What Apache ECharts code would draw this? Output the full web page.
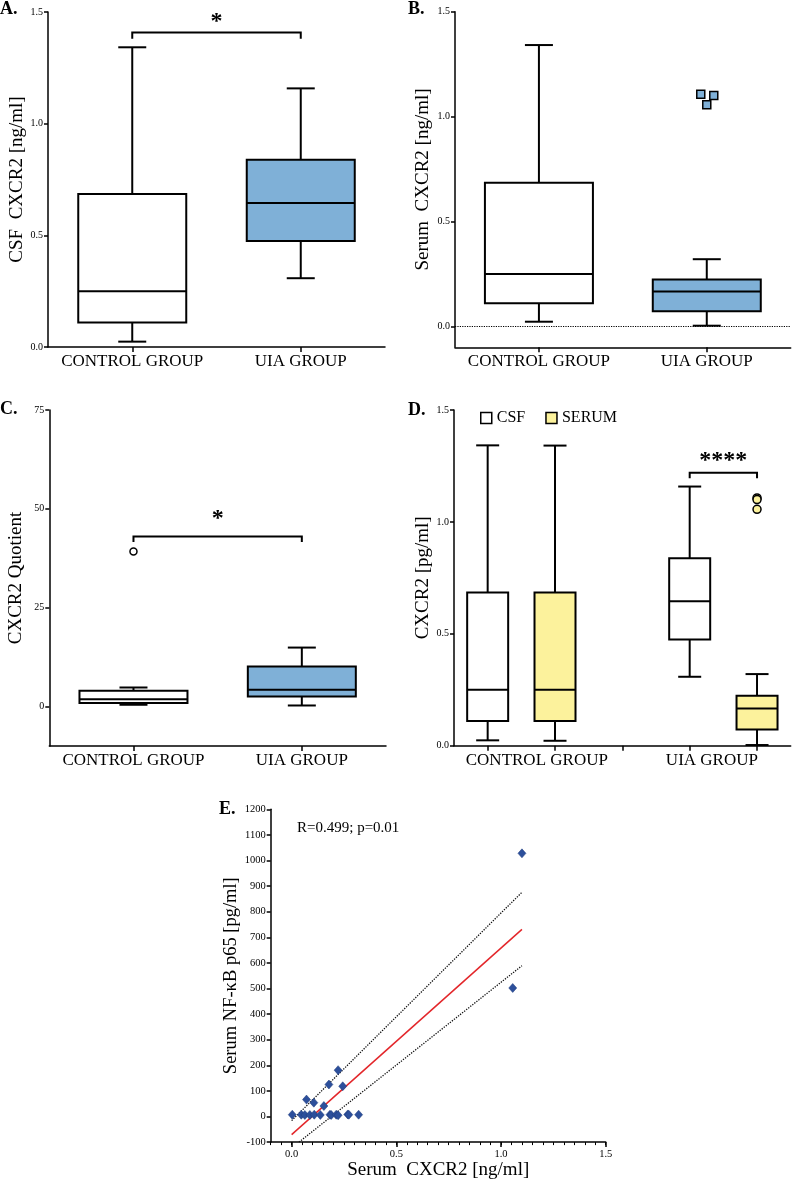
<!DOCTYPE html>
<html><head><meta charset="utf-8">
<script src="https://cdn.jsdelivr.net/npm/echarts@6/dist/echarts.min.js"></script>
<style>html,body{margin:0;padding:0;background:#fff}#c{width:793px;height:1181px}</style>
</head><body><div id="c"></div>
<script>
// ---------------- data ----------------
const groups = ['CONTROL GROUP', 'UIA GROUP'];
// box rows: [min, Q1, median, Q3, max]
const csfControl   = [0.024, 0.110, 0.250, 0.685, 1.342];
const csfUIA       = [0.308, 0.475, 0.645, 0.838, 1.158];
const serumControl = [0.022, 0.110, 0.250, 0.684, 1.341];
const serumUIA     = [0.003, 0.072, 0.166, 0.223, 0.320];
const serumUIAOutliers = [1.107, 1.100, 1.056];
const quotControl  = [0.43, 0.85, 1.8, 4.0, 4.8];
const quotUIA      = [0.25, 2.5, 4.2, 10.1, 14.9];
const quotControlOutliers = [39.2];
const ticksConc = [0, 0.5, 1.0, 1.5];
const ticksQuot = [0, 25, 50, 75];
const ticksE_X  = [0, 0.5, 1.0, 1.5];
// panel D slots (empty middle slot separates groups)
const dSlots = ['CSF control', 'SERUM control', '', 'CSF UIA', 'SERUM UIA'];
const dGroupLabelPos = [0.73, 3.33];
// significance brackets: [fromCat, toCat, yTop, yDrop, yLabel]
const sigA = [0, 1, 1.408, 1.38, 1.473];
const sigC = [0, 1, 43.0, 41.6, 48.5];
const sigD = [3, 4, 1.22, 1.195, 1.289];
const sigLabelA = '*', sigLabelC = '*', sigLabelD = '****';
// panel E scatter
const nfkbX = [1.100, 1.056, 0.222, 0.178, 0.244, 0.071, 0.106, 0.154,
               0.003, 0.046, 0.063, 0.087, 0.108, 0.137, 0.183, 0.189, 0.213, 0.222, 0.268, 0.273, 0.320];
const nfkbY = [1028, 502, 181, 125, 118, 66, 54, 41,
               7, 7, 6, 6, 7, 6, 7, 6, 7, 5, 8, 7, 7];
const fitLine = [[0, -71], [1.1, 731]];
const ciUpper = [[0, -16], [1.1, 876]];
const ciLower = [[0.035, -100], [1.1, 589]];
const statText = 'R=0.499; p=0.01';

// ---------------- style ----------------
const FONT = '"Liberation Serif", "DejaVu Serif", serif';
const BLUE = '#7fb0d7', YELLOW = '#fcf29c', WHITE = '#ffffff';
const jitterPx = [[-6, 0], [7, 0], [0, 0]];

function boxItem(fills, boxW, capW) {
  return function (params, api) {
    const x = api.value(0);
    const p = [1, 2, 3, 4, 5].map(function (d) { return api.coord([x, api.value(d)]); });
    const cx = p[0][0];
    const yMin = p[0][1], yQ1 = p[1][1], yMed = p[2][1], yQ3 = p[3][1], yMax = p[4][1];
    const ln = { stroke: '#000', lineWidth: 2 };
    const seg = function (x1, y1, x2, y2) { return { type: 'line', shape: { x1: x1, y1: y1, x2: x2, y2: y2 }, style: ln }; };
    return { type: 'group', children: [
      seg(cx, yMax, cx, yQ3), seg(cx, yQ1, cx, yMin),
      seg(cx - capW / 2, yMax, cx + capW / 2, yMax), seg(cx - capW / 2, yMin, cx + capW / 2, yMin),
      { type: 'rect', shape: { x: cx - boxW / 2, y: yQ3, width: boxW, height: yQ1 - yQ3 },
        style: { fill: fills[params.dataIndex], stroke: '#000', lineWidth: 2 } },
      seg(cx - boxW / 2, yMed, cx + boxW / 2, yMed)
    ] };
  };
}
function bracketItem(label) {
  return function (params, api) {
    const a = api.coord([api.value(0), api.value(2)]);
    const b = api.coord([api.value(1), api.value(2)]);
    const yd = api.coord([api.value(0), api.value(3)])[1];
    const yl = api.coord([api.value(0), api.value(4)])[1];
    return { type: 'group', children: [
      { type: 'polyline', shape: { points: [[a[0], yd], [a[0], a[1]], [b[0], b[1]], [b[0], yd]] },
        style: { stroke: '#000', lineWidth: 2, fill: 'none' } },
      { type: 'text', x: (a[0] + b[0]) / 2, y: yl + 4,
        style: { text: label, font: 'bold 24px ' + FONT, fill: '#000', align: 'center', verticalAlign: 'middle' } }
    ] };
  };
}
function boxSeries(name, xi, yi, rows, fills, boxW, capW) {
  return { type: 'custom', name: name, xAxisIndex: xi, yAxisIndex: yi, clip: false, silent: true,
    renderItem: boxItem(fills, boxW, capW), encode: { x: 0, y: [1, 2, 3, 4, 5] }, data: rows };
}
function bracketSeries(xi, yi, row, label) {
  return { type: 'custom', xAxisIndex: xi, yAxisIndex: yi, clip: false, silent: true,
    renderItem: bracketItem(label), encode: { x: [0, 1], y: [2, 3, 4] }, data: [row] };
}
const axLine = { show: true, onZero: false, lineStyle: { color: '#000', width: 1.5 } };
const tickY = { show: true, length: 4, lineStyle: { color: '#000', width: 1.5 } };
const tickX = { show: true, length: 5, alignWithLabel: true, interval: 0, lineStyle: { color: '#000', width: 1.5 } };
const tickLbl = { color: '#000', fontFamily: FONT, fontSize: 10, margin: 5 };
const catLbl = { color: '#000', fontFamily: FONT, fontSize: 17, margin: 6, interval: 0, hideOverlap: false };
const yName = function (txt, gap) {
  return { name: txt, nameLocation: 'middle', nameGap: gap, nameRotate: 90,
    nameTextStyle: { color: '#000', fontFamily: FONT, fontSize: 19 } };
};
function catAxis(gi, data, showLabel) {
  return { type: 'category', gridIndex: gi, data: data, boundaryGap: true, axisLine: axLine, axisTick: tickX,
    axisLabel: Object.assign({ show: showLabel !== false }, catLbl), splitLine: { show: false } };
}
const f1 = function (v) { return Number(v).toFixed(1); };
const f0 = function (v) { return String(Math.round(v)); };

const option = {
  backgroundColor: '#fff',
  animation: false,
  textStyle: { fontFamily: FONT },
  title: [
    { text: 'A.', left: 0, top: 0, padding: 0, textStyle: { fontSize: 18, fontWeight: 'bold', fontFamily: FONT, color: '#000' } },
    { text: 'B.', left: 408, top: 0, padding: 0, textStyle: { fontSize: 18, fontWeight: 'bold', fontFamily: FONT, color: '#000' } },
    { text: 'C.', left: 0, top: 400, padding: 0, textStyle: { fontSize: 18, fontWeight: 'bold', fontFamily: FONT, color: '#000' } },
    { text: 'D.', left: 408, top: 401, padding: 0, textStyle: { fontSize: 18, fontWeight: 'bold', fontFamily: FONT, color: '#000' } },
    { text: 'E.', left: 219, top: 800, padding: 0, textStyle: { fontSize: 18, fontWeight: 'bold', fontFamily: FONT, color: '#000' } },
    { text: statText, left: 297, top: 821, padding: 0, textStyle: { fontSize: 15, fontWeight: 'normal', fontFamily: FONT, color: '#000' } }
  ],
  legend: {
    left: 480, top: 410, padding: 0, itemWidth: 11, itemHeight: 11, itemGap: 20, selectedMode: false,
    textStyle: { fontFamily: FONT, fontSize: 16, color: '#000' },
    data: [
      { name: 'CSF', icon: 'rect', itemStyle: { color: WHITE, borderColor: '#000', borderWidth: 1.5 } },
      { name: 'SERUM', icon: 'rect', itemStyle: { color: YELLOW, borderColor: '#000', borderWidth: 1.5 } }
    ]
  },
  grid: [
    { left: 48, top: 12, width: 337, height: 335 },
    { left: 455, top: 11.7, width: 335.7, height: 335.6 },
    { left: 49.3, top: 410, width: 336.7, height: 336 },
    { left: 454, top: 410, width: 336.7, height: 335.7 },
    { left: 270.7, top: 809.3, width: 335, height: 334.7 }
  ],
  xAxis: [
    catAxis(0, groups),
    catAxis(1, groups),
    catAxis(2, groups),
    catAxis(3, dSlots, false),
    { type: 'value', gridIndex: 3, min: -0.5, max: 4.5, position: 'bottom',
      axisLine: { show: false, onZero: false }, axisTick: { show: false }, splitLine: { show: false },
      axisLabel: Object.assign({}, catLbl, { customValues: dGroupLabelPos, formatter: function (v) { return v < 2 ? groups[0] : groups[1]; } }) },
    { type: 'value', gridIndex: 4, min: -0.1, max: 1.5, position: 'bottom',
      axisLine: axLine, splitLine: { show: false },
      axisTick: { show: true, length: 5, customValues: ticksE_X, lineStyle: { color: '#000', width: 1.5 } },
      axisLabel: Object.assign({}, tickLbl, { fontSize: 10.5, margin: 7, customValues: ticksE_X, formatter: f1 }),
      name: 'Serum  CXCR2 [ng/ml]', nameLocation: 'middle', nameGap: 17,
      nameTextStyle: { color: '#000', fontFamily: FONT, fontSize: 19 } },
    { type: 'value', gridIndex: 4, min: -0.1, max: 1.5, interval: 0.05, position: 'bottom',
      axisLine: { show: false, onZero: false }, splitLine: { show: false }, axisLabel: { show: false },
      axisTick: { show: true, length: 3, lineStyle: { color: '#000', width: 1 } } }
  ],
  yAxis: [
    Object.assign({ type: 'value', gridIndex: 0, min: 0, max: 1.5, interval: 0.5, axisLine: axLine, axisTick: tickY,
      splitLine: { show: false }, axisLabel: Object.assign({ formatter: f1 }, tickLbl) }, yName('CSF  CXCR2 [ng/ml]', 20)),
    Object.assign({ type: 'value', gridIndex: 1, min: -0.1, max: 1.5, axisLine: axLine,
      axisTick: Object.assign({ customValues: ticksConc }, tickY),
      splitLine: { show: false }, axisLabel: Object.assign({ customValues: ticksConc, formatter: f1 }, tickLbl) }, yName('Serum  CXCR2 [ng/ml]', 22)),
    Object.assign({ type: 'value', gridIndex: 2, min: -10, max: 75, axisLine: axLine,
      axisTick: Object.assign({ customValues: ticksQuot }, tickY),
      splitLine: { show: false }, axisLabel: Object.assign({ customValues: ticksQuot, formatter: f0 }, tickLbl) }, yName('CXCR2 Quotient', 24)),
    Object.assign({ type: 'value', gridIndex: 3, min: 0, max: 1.5, interval: 0.5, axisLine: axLine, axisTick: tickY,
      splitLine: { show: false }, axisLabel: Object.assign({ formatter: f1 }, tickLbl) }, yName('CXCR2 [pg/ml]', 21)),
    Object.assign({ type: 'value', gridIndex: 4, min: -100, max: 1200, interval: 100, axisLine: axLine, axisTick: tickY,
      splitLine: { show: false }, axisLabel: Object.assign({}, tickLbl, { fontSize: 10.5, formatter: f0 }) },
      yName('Serum NF-κB p65 [pg/ml]', 30), { nameTextStyle: { color: '#000', fontFamily: FONT, fontSize: 18.5 } })
  ],
  series: [
    // A
    boxSeries('A', 0, 0, [[0].concat(csfControl), [1].concat(csfUIA)], [WHITE, BLUE], 108, 28),
    bracketSeries(0, 0, sigA, sigLabelA),
    // B
    boxSeries('B', 1, 1, [[0].concat(serumControl), [1].concat(serumUIA)], [WHITE, BLUE], 108, 28),
    { type: 'scatter', xAxisIndex: 1, yAxisIndex: 1, symbol: 'rect', symbolSize: 8, silent: true,
      itemStyle: { color: BLUE, borderColor: '#000', borderWidth: 1.5, opacity: 1 },
      data: serumUIAOutliers.map(function (v, i) { return { value: [1, v], symbolOffset: jitterPx[i] }; }),
      markLine: { silent: true, symbol: 'none', label: { show: false },
        lineStyle: { color: '#000', type: 'dotted', width: 1.2 }, data: [{ yAxis: 0 }] } },
    // C
    boxSeries('C', 2, 2, [[0].concat(quotControl), [1].concat(quotUIA)], [WHITE, BLUE], 108, 28),
    { type: 'scatter', xAxisIndex: 2, yAxisIndex: 2, symbol: 'circle', symbolSize: 7, silent: true,
      itemStyle: { color: WHITE, borderColor: '#000', borderWidth: 1.5, opacity: 1 },
      data: quotControlOutliers.map(function (v) { return [0, v]; }) },
    bracketSeries(2, 2, sigC, sigLabelC),
    // D
    boxSeries('CSF', 3, 3, [[0].concat(csfControl), [3].concat(csfUIA)], [WHITE, WHITE], 41, 23),
    boxSeries('SERUM', 3, 3, [[1].concat(serumControl), [4].concat(serumUIA)], [YELLOW, YELLOW], 41, 23),
    { type: 'scatter', xAxisIndex: 3, yAxisIndex: 3, symbol: 'circle', symbolSize: 8, silent: true,
      itemStyle: { color: YELLOW, borderColor: '#000', borderWidth: 1.5, opacity: 1 },
      data: serumUIAOutliers.map(function (v) { return [4, v]; }) },
    bracketSeries(3, 3, sigD, sigLabelD),
    // E
    { type: 'line', xAxisIndex: 5, yAxisIndex: 4, data: ciUpper, showSymbol: false, silent: true,
      lineStyle: { color: '#111', type: 'dotted', width: 1.3 } },
    { type: 'line', xAxisIndex: 5, yAxisIndex: 4, data: ciLower, showSymbol: false, silent: true,
      lineStyle: { color: '#111', type: 'dotted', width: 1.3 } },
    { type: 'line', xAxisIndex: 5, yAxisIndex: 4, data: fitLine, showSymbol: false, silent: true,
      lineStyle: { color: '#e3262a', width: 1.5 } },
    { type: 'scatter', xAxisIndex: 5, yAxisIndex: 4, symbol: 'diamond', symbolSize: [8, 9], silent: true, z: 5,
      itemStyle: { color: '#2c4f9b', borderColor: '#1e3a7a', borderWidth: 0.5, opacity: 1 },
      data: nfkbX.map(function (x, i) { return [x, nfkbY[i]]; }) }
  ]
};
const chart = echarts.init(document.getElementById('c'), null, { renderer: 'canvas' });
chart.setOption(option);
</script>
</body></html>
